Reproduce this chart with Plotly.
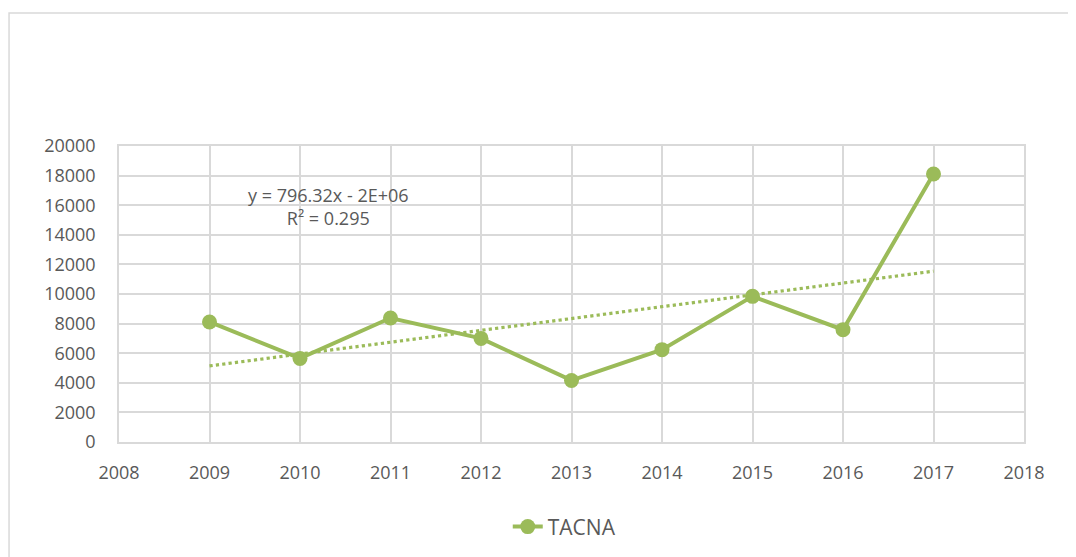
import numpy as np
import plotly.graph_objects as go

years = [2009, 2010, 2011, 2012, 2013, 2014, 2015, 2016, 2017]
values = [8110, 5650, 8380, 7000, 4160, 6240, 9840, 7590, 18110]
series_name = "TACNA"
eq_text = "y = 796.32x - 2E+06"
r2_text = "R² = 0.295"
x_ticks = list(range(2008, 2019))
y_ticks = list(range(0, 20001, 2000))

green = "#9bbb59"
grid = "#d9d9d9"
txt = "#595959"
font_family = "Open Sans, Liberation Sans, sans-serif"

coef = np.polyfit(years, values, 1)
trend_y = np.polyval(coef, years)

fig = go.Figure()
fig.add_trace(go.Scatter(
    x=years, y=trend_y, mode="lines",
    line=dict(color=green, width=3.2, dash="dot"),
    showlegend=False, hoverinfo="skip"))
fig.add_trace(go.Scatter(
    x=years, y=values, mode="lines+markers", name=series_name,
    line=dict(color=green, width=4),
    marker=dict(color=green, size=15)))

fig.add_annotation(x=0.231, y=0.795, xref="paper", yref="paper",
                   text=eq_text + "<br>" + r2_text, showarrow=False,
                   font=dict(family=font_family, size=18, color=txt),
                   align="center", xanchor="center", yanchor="middle")

# outer chart border
fig.add_shape(type="rect", xref="paper", yref="paper",
              x0=-0.1215, x1=1.2, y0=-0.6, y1=1.449,
              line=dict(color=grid, width=1.5), fillcolor="rgba(0,0,0,0)", layer="below")

fig.update_layout(
    width=1068, height=549, autosize=False,
    margin=dict(l=111, r=52, t=138, b=115, autoexpand=False),
    paper_bgcolor="white", plot_bgcolor="white",
    font=dict(family=font_family, size=18, color=txt),
    legend=dict(orientation="h", x=0.492, xanchor="center", y=-0.287, yanchor="middle",
                font=dict(family=font_family, size=21, color=txt)),
    xaxis=dict(range=[2008, 2018], tickvals=x_ticks, ticktext=[str(t) for t in x_ticks],
               showgrid=True, gridcolor=grid, gridwidth=1.5,
               showline=True, linecolor=grid, linewidth=1.5, mirror=True,
               zeroline=False, ticks="", ticklabelstandoff=14, automargin=False),
    yaxis=dict(range=[0, 20000], tickvals=y_ticks, ticktext=[str(t) for t in y_ticks],
               showgrid=True, gridcolor=grid, gridwidth=1.5,
               showline=True, linecolor=grid, linewidth=1.5, mirror=True,
               zeroline=False, ticks="", ticklabelstandoff=18, automargin=False),
)

fig.write_html("out.html")
